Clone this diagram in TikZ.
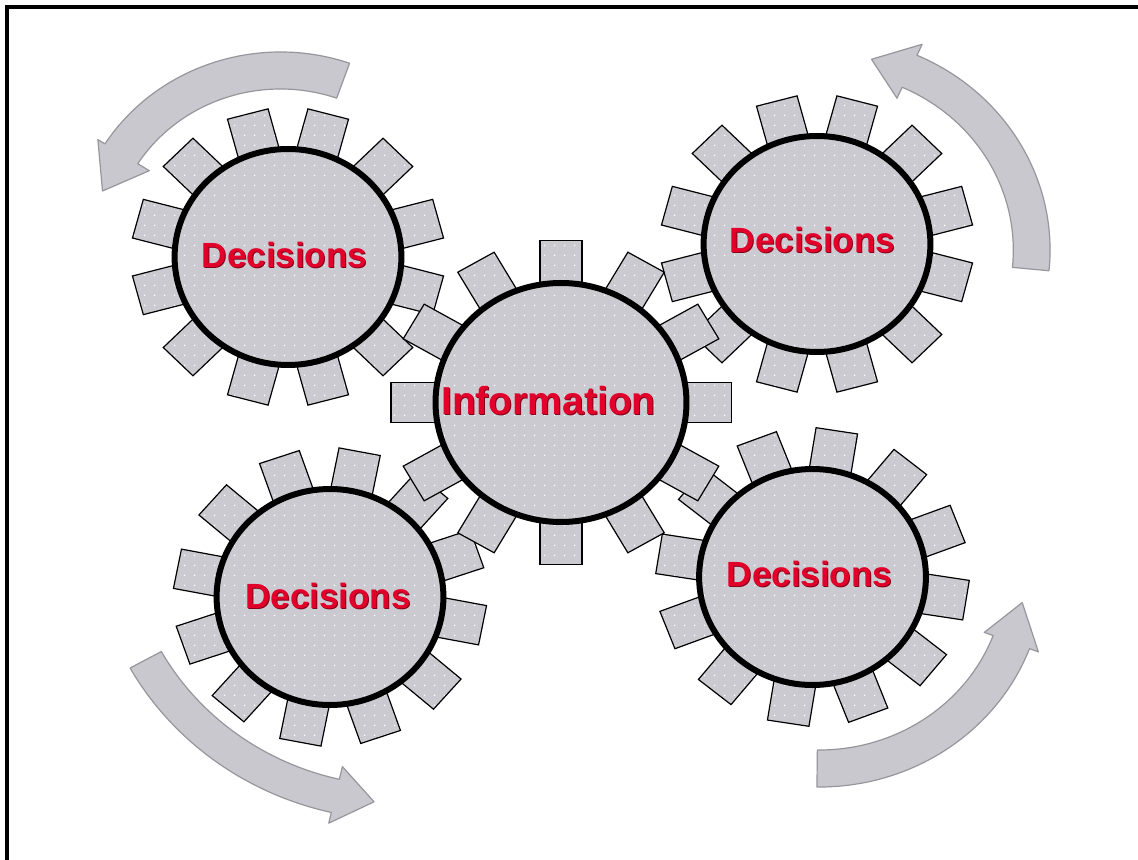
\documentclass[tikz,border=0pt]{standalone}
\usepackage{fontspec}
\setmainfont{Liberation Sans}
\usetikzlibrary{patterns.meta}
\definecolor{gearfill}{RGB}{204,202,209}
\definecolor{arrowfill}{RGB}{201,200,207}
\definecolor{arrowline}{RGB}{150,150,156}
\definecolor{txtred}{RGB}{226,0,42}
\definecolor{txtshadow}{RGB}{130,0,25}
\tikzdeclarepattern{name=sparsedots, type=uncolored,
  bottom left={(0pt,0pt)}, top right={(5pt,5pt)}, tile size={(5pt,5pt)},
  code={\fill (2.5pt,2.5pt) circle [radius=0.45pt];}}
\tikzset{
  gearbody/.style={preaction={fill=gearfill}, pattern=sparsedots, pattern color=white},
  tooth/.style={gearbody, draw=black, line width=0.6pt},
  rim/.style={gearbody, draw=black, line width=3pt},
  turnarrow/.style={fill=arrowfill, draw=arrowline, line width=0.6pt, line join=round},
  gearlabel/.style={text=txtred, font=\fontsize{17.5pt}{20pt}\selectfont\bfseries, inner sep=0pt},
  infolabel/.style={gearlabel, font=\fontsize{19.5pt}{22pt}\selectfont\bfseries},
  shadowtext/.style={text=txtshadow},
}
% #1 center, #2 offset angle, #3 rim radius, #4 tooth inner, #5 tooth outer
\newcommand{\gearwheel}[5]{%
  \begin{scope}[shift={#1}, xscale=1.05, yscale=-1]
    \foreach \k in {0,...,11} {\draw[tooth, rotate={#2+30*\k}] (#4,-20) rectangle (#5,20);}
    \draw[rim] (0,0) circle[radius=#3];
  \end{scope}}
% #1 center, #2 start angle, #3 end angle, #4 r in, #5 r out, #6 head in, #7 head out, #8 tip angle
\newcommand{\bentarrow}[8]{%
  \begin{scope}[shift={#1}, xscale=1.05, yscale=-1]
    \draw[turnarrow] (#2:#4) arc[start angle=#2, end angle=#3, radius=#4]
      -- (#3:#6) -- (#8:{(#4+#5)/2}) -- (#3:#7) -- (#3:#5)
      arc[start angle=#3, end angle=#2, radius=#5] -- cycle;
  \end{scope}}
\begin{document}
\begin{tikzpicture}[x=0.5pt, y=-0.5pt]
\useasboundingbox (0,0) rectangle (1138,860);
\fill[white] (0,0) rectangle (1138,860);
\draw[line width=2pt] (7,860) -- (7,7) -- (1138,7);

% turning arrows
\bentarrow{(280.5,250)}{70.6}{147.6}{161}{198}{148}{206}{160.8}
\bentarrow{(826.4,250)}{-5.6}{66.1}{178}{213}{166}{225}{77.3}
\bentarrow{(401,525)}{209}{257}{261}{295}{248}{306}{264.7}
\bentarrow{(819.3,573)}{269.4}{339.3}{177}{214}{168}{223}{351.3}

% decision gears
\coordinate (gtl) at (288,257);
\coordinate (gtr) at (817,244);
\coordinate (gbl) at (330,597);
\coordinate (gbr) at (812.5,577);
\coordinate (gc) at (561,402.5);
\gearwheel{(gtl)}{15}{108}{98}{148}
\gearwheel{(gtr)}{15}{108}{98}{148}
\gearwheel{(gbl)}{11}{108}{98}{148}
\gearwheel{(gbr)}{9}{108}{98}{148}
% central gear
\gearwheel{(gc)}{0}{119.5}{108}{162}

% labels
\node[gearlabel, shadowtext] (stl) at (285.5,256) {Decisions};
\node[gearlabel] (ltl) at (284.5,255) {Decisions};
\node[gearlabel, shadowtext] (str) at (813.5,241) {Decisions};
\node[gearlabel] (ltr) at (812.5,240) {Decisions};
\node[gearlabel, shadowtext] (sbl) at (329,597) {Decisions};
\node[gearlabel] (lbl) at (328,596) {Decisions};
\node[gearlabel, shadowtext] (sbr) at (810.5,575) {Decisions};
\node[gearlabel] (lbr) at (809.5,574) {Decisions};
\node[infolabel, shadowtext] (sc) at (549.5,402) {Information};
\node[infolabel] (lc) at (548.5,401) {Information};
\end{tikzpicture}
\end{document}
